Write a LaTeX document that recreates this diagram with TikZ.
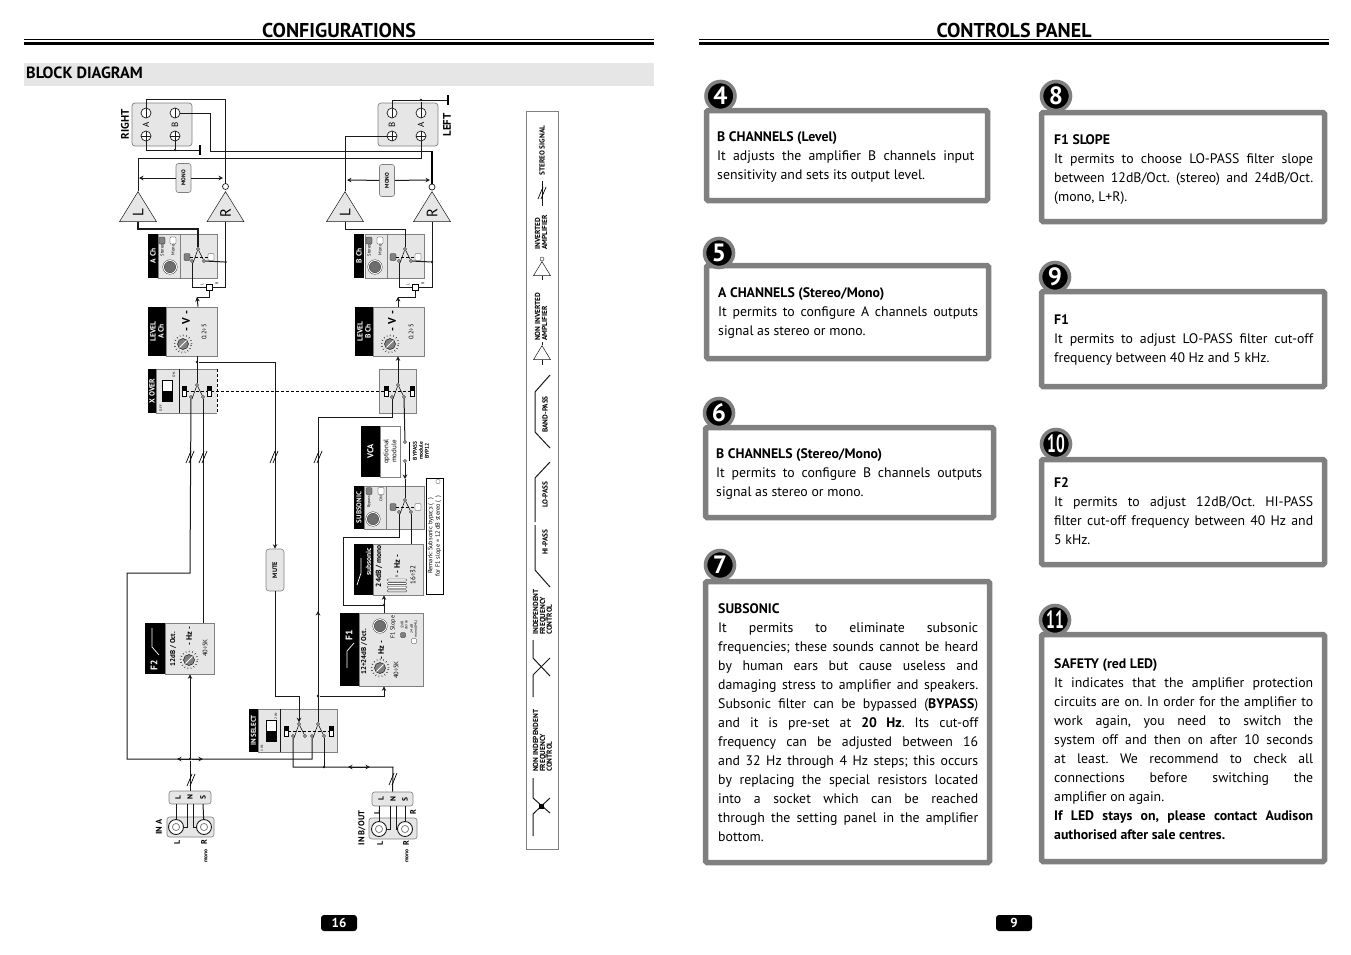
\documentclass[tikz,border=0pt]{standalone}
\usepackage{fontspec}
\setmainfont{PT Sans}
\usetikzlibrary{arrows.meta,shapes.geometric,calc}
\definecolor{edge}{HTML}{808080}
\definecolor{panel}{HTML}{E6E6E6}
\definecolor{pad}{HTML}{6E6E6E}
\definecolor{wire}{HTML}{1A1A1A}
\newcommand{\fsz}[2]{\fontsize{#1}{#2}\selectfont}
\frenchspacing

\begin{document}
\begin{tikzpicture}[
   x=1pt,y=-1pt,
   mod/.style   ={draw=edge,fill=panel,line width=0.7pt,inner sep=0pt},
   tag/.style   ={fill=black,text=white,rotate=90,inner sep=0pt,align=center,font=\fsz{7.5}{8}\bfseries},
   rt/.style    ={rotate=90,inner sep=0pt,align=center,font=\fsz{6}{6.5}},
   rb/.style    ={rotate=90,inner sep=0pt,align=center,font=\fsz{6}{6.5}\bfseries},
   lgt/.style   ={rotate=90,inner sep=0pt,align=left,anchor=west,font=\fsz{7.3}{6.9}\bfseries},
   wr/.style    ={draw=wire,line width=1pt},
   fl/.style    ={-{Stealth[length=4.5pt,width=4.5pt]},draw=wire,line width=1pt},
   pin/.style   ={circle,draw=wire,fill=white,line width=0.5pt,minimum size=3pt,inner sep=0pt},
   dot/.style   ={circle,fill=wire,minimum size=2.6pt,inner sep=0pt},
   opto/.style  ={circle,draw=wire,fill=white,line width=0.7pt,minimum size=6pt,inner sep=0pt},
   tminus/.style={circle,draw=wire,fill=white,line width=0.7pt,minimum size=10pt,inner sep=0pt,
                  path picture={\draw (path picture bounding box.north) -- (path picture bounding box.south);}},
   tplus/.style ={tminus,path picture={\draw (path picture bounding box.north) -- (path picture bounding box.south);
                  \draw (path picture bounding box.west) -- (path picture bounding box.east);}},
   amp/.style   ={isosceles triangle,isosceles triangle stretches,rotate=90,draw=wire,fill=panel,line width=0.5pt,
                  minimum width=37pt,minimum height=30pt,inner sep=0pt,anchor=apex,font=\fsz{15}{15}},
   amps/.style  ={isosceles triangle,isosceles triangle stretches,rotate=90,draw=wire,fill=white,line width=0.5pt,
                  minimum width=17pt,minimum height=14pt,inner sep=0pt,anchor=apex},
   pill/.style  ={draw=edge,fill=panel,rounded corners=2.5pt,line width=0.6pt,inner sep=0pt},
   ledg/.style  ={draw=wire,fill=edge,rounded corners=1pt,line width=0.3pt,minimum width=6pt,minimum height=7pt,inner sep=0pt},
   ledw/.style  ={draw=wire,fill=white,rounded corners=1pt,line width=0.3pt,minimum width=6pt,minimum height=7pt,inner sep=0pt},
   ledb/.style  ={draw=black,fill=white,line width=0.4pt,minimum width=4.5pt,minimum height=10pt,inner sep=0pt,
                  path picture={\fill[black] (path picture bounding box.north west) rectangle (path picture bounding box.east);}},
   slider/.style={draw=black,fill=white,line width=0.5pt,minimum width=10pt,minimum height=21pt,inner sep=0pt,
                  path picture={\fill[black] (path picture bounding box.west) rectangle (path picture bounding box.south east);}},
   knob/.style  ={circle,draw=wire,fill=edge,line width=0.5pt,minimum size=11pt,inner sep=0pt,
                  path picture={\draw[white,line width=0.8pt] (path picture bounding box.south west) -- (path picture bounding box.north east);}},
   ticks/.style ={circle,draw=wire,line width=1.6pt,dash pattern=on 0.5pt off 2.7pt,minimum size=17pt,inner sep=0pt},
   disc/.style  ={circle,draw=wire,fill=pad,line width=0.4pt,double=white,double distance=1pt,minimum size=13pt,inner sep=0pt},
   jack/.style  ={circle,draw=wire,fill=white,line width=0.9pt,minimum size=15pt,inner sep=0pt,
                  path picture={\draw[edge,line width=0.8pt] (path picture bounding box.center) circle (3.6pt);}},
   res/.style   ={draw=wire,fill=white,rounded corners=0.7pt,line width=0.4pt,minimum width=19pt,minimum height=2pt,inner sep=0pt},
   frame/.style ={draw=edge,fill=white,line width=5.5pt,rounded corners=1.5pt,inner sep=0pt},
   badge/.style ={circle,fill=black,draw=edge,line width=3.6pt,minimum size=29pt,inner sep=0pt,text=white,font=\fsz{25}{25}\bfseries},
   para/.style  ={anchor=north west,inner sep=0pt,align=justify,font=\fsz{13.8}{19}},
   swpic/.pic={
     \node[pin] (-p) at (0,0) {};
     \node[pin] (-a) at (-6,12) {};
     \node[pin] (-b) at (6,12) {};
     \draw[line width=0.5pt] (-p) -- (-5,14);
     \draw[line width=0.5pt] (-p) -- (-b);
   },
   slashes/.pic={
     \draw[line width=0.7pt] (-4,6) -- (1,-6);
     \draw[line width=0.7pt] (-1,6) -- (4,-6);
   }
  ]
  \useasboundingbox (0,0) rectangle (1351,954);

  % page heads
  \node[font=\fsz{20}{20}\bfseries] (headL) at (339,30) {CONFIGURATIONS};
  \node[font=\fsz{20}{20}\bfseries] (headR) at (1014,30) {CONTROLS PANEL};
  \fill (24,39.2) rectangle (654,40);
  \fill (24,41.5) rectangle (654,44.5);
  \fill (699,39.2) rectangle (1329,40);
  \fill (699,41.5) rectangle (1329,44.5);
  \node[fill=panel,minimum width=630pt,minimum height=23pt,inner sep=0pt] (band) at (339,74.5) {};
  \node[anchor=west,inner sep=0pt,font=\fsz{16.2}{16}\bfseries] (bandtxt) at (26,73) {BLOCK DIAGRAM};
  \node[fill=black,text=white,rounded corners=3pt,minimum width=36pt,minimum height=16pt,inner sep=0pt,font=\fsz{13}{13}\bfseries] (pageL) at (339,923) {16};
  \node[fill=black,text=white,rounded corners=3pt,minimum width=36pt,minimum height=16pt,inner sep=0pt,font=\fsz{13}{13}\bfseries] (pageR) at (1014,923) {9};

  % speakers
  \node[mod,rounded corners=3pt,minimum width=60pt,minimum height=43pt] (spkR) at (162,124.5) {};
  \node[mod,rounded corners=3pt,minimum width=60pt,minimum height=43pt] (spkL) at (408,124.5) {};
  \node[tminus] (rAm) at (146,113) {};
  \node[tminus] (rBm) at (175,113) {};
  \node[tplus]  (rAp) at (146,136) {};
  \node[tplus]  (rBp) at (175,136) {};
  \node[tminus] (lBm) at (392,113) {};
  \node[tminus] (lAm) at (421,113) {};
  \node[tplus]  (lBp) at (392,136) {};
  \node[tplus]  (lAp) at (421,136) {};
  \node[rt,font=\fsz{9}{9}] (rAt) at (146,124.5) {A};
  \node[rt,font=\fsz{9}{9}] (rBt) at (175,124.5) {B};
  \node[rt,font=\fsz{9}{9}] (lBt) at (392,124.5) {B};
  \node[rt,font=\fsz{9}{9}] (lAt) at (421,124.5) {A};
  \node[rb,font=\fsz{11}{11}\bfseries] (rightt) at (125,124.5) {RIGHT};
  \node[rb,font=\fsz{11}{11}\bfseries] (leftt) at (447,125) {LEFT};
  \node[dot] (rGnd) at (175,150) {};
  \node[dot] (lGnd) at (421,100) {};
  \coordinate (rEnd) at (200,150);
  \coordinate (lEnd) at (448,100);

  % amplifiers
  \node[amp] (ampAL) at (138,191) {L};
  \node[amp] (ampAR) at (225.5,191) {R};
  \node[amp] (ampBL) at (345,191) {L};
  \node[amp] (ampBR) at (432,191) {R};
  \node[opto] (optAR) at (225.5,186.5) {};
  \node[opto] (optBR) at (432,187) {};
  \node[pill,minimum width=15pt,minimum height=29pt] (monoA) at (183.5,178) {};
  \node[rb,font=\fsz{5.5}{6}\bfseries] (monoAt) at (183.5,178) {MONO};
  \node[pill,minimum width=15pt,minimum height=32pt] (monoB) at (387,180.5) {};
  \node[rb,font=\fsz{5.5}{6}\bfseries] (monoBt) at (387,180.5) {MONO};

  % stereo/mono switches
  \node[mod,minimum width=59pt,minimum height=44pt] (chA) at (187.5,256) {};
  \node[tag,minimum width=44pt,minimum height=10pt] (chAt) at (153,256) {A Ch};
  \draw[edge,line width=0.5pt] (180,234) -- (180,278);
  \node[disc] (chAd) at (170,267) {};
  \node[ledg] (chAl) at (162,240.5) {};
  \node[ledw] (chAm) at (173,240.5) {};
  \node[rt,font=\fsz{4.5}{5}] (chAst) at (162,250) {Stereo};
  \node[rt,font=\fsz{4.5}{5}] (chAmt) at (173,250) {Mono};
  \node[ledg] (chAa) at (187,257) {};
  \node[ledw] (chAb) at (211,257) {};
  \pic (swA) at (198,249) {swpic};
  \draw[densely dashed,line width=0.4pt] (chAa) -- (chAb);
  \node[mod,minimum width=59pt,minimum height=44pt] (chB) at (394.5,256) {};
  \node[tag,minimum width=44pt,minimum height=10pt] (chBt) at (359,256) {B Ch};
  \draw[edge,line width=0.5pt] (387,234) -- (387,278);
  \node[disc] (chBd) at (375,267) {};
  \node[ledg] (chBl) at (369,240.5) {};
  \node[ledw] (chBm) at (380,240.5) {};
  \node[rt,font=\fsz{4.5}{5}] (chBst) at (369,250) {Stereo};
  \node[rt,font=\fsz{4.5}{5}] (chBmt) at (380,250) {Mono};
  \node[ledg] (chBa) at (393,257) {};
  \node[ledw] (chBb) at (418,257) {};
  \pic (swB) at (405,249) {swpic};
  \draw[densely dashed,line width=0.4pt] (chBa) -- (chBb);
  \node[dot] (chAj) at (225.5,262) {};
  \node[dot] (chBj) at (432,262) {};
  \node[draw=black,fill=white,line width=0.7pt,minimum size=6pt,inner sep=0pt] (mixA) at (209,287) {};
  \node[draw=black,fill=white,line width=0.7pt,minimum size=6pt,inner sep=0pt] (mixB) at (415,287) {};
  \node[rt,font=\fsz{4}{4}] (mixAl) at (202,284) {L};
  \node[rt,font=\fsz{4}{4}] (mixAr) at (217,283) {R};
  \node[rt,font=\fsz{4}{4}] (mixBl) at (408,284) {L};
  \node[rt,font=\fsz{4}{4}] (mixBr) at (423,283) {R};

  % level
  \node[mod,minimum width=51pt,minimum height=49pt] (lvlA) at (191.5,331.5) {};
  \node[tag,minimum width=49pt,minimum height=18pt] (lvlAt) at (157,331.5) {LEVEL\\A Ch};
  \node[rb,font=\fsz{11}{11}\bfseries] (lvlAv) at (186,321) {- V -};
  \node[ticks] (lvlAr) at (183,344) {};
  \node[knob] (lvlAk) at (183,344) {};
  \node[rt,font=\fsz{6.5}{7}] (lvlAz) at (204,332) {0.2÷5};
  \node[mod,minimum width=51pt,minimum height=49pt] (lvlB) at (398.5,331.5) {};
  \node[tag,minimum width=49pt,minimum height=18pt] (lvlBt) at (364,331.5) {LEVEL\\B Ch};
  \node[rb,font=\fsz{11}{11}\bfseries] (lvlBv) at (392,321) {- V -};
  \node[ticks] (lvlBr) at (390,344) {};
  \node[knob] (lvlBk) at (390,344) {};
  \node[rt,font=\fsz{6.5}{7}] (lvlBz) at (411,332) {0.2÷5};

  % x over
  \node[draw=none,fill=panel,minimum width=61pt,minimum height=44pt,inner sep=0pt] (xoA) at (186.5,391) {};
  \draw[edge,line width=0.6pt] (217,369) -- (156,369) -- (156,413) -- (217,413);
  \draw[densely dashed,line width=0.5pt] (217,369) -- (217,413);
  \node[tag,minimum width=44pt,minimum height=8pt] (xoAt) at (152,391) {X OVER};
  \draw[wire,line width=0.6pt] (179,369) -- (179,413);
  \node[slider] (xoAs) at (167,391) {};
  \node[rt,font=\fsz{3.5}{4}] (xoAon) at (174,375) {ON};
  \node[rt,font=\fsz{3.5}{4}] (xoAof) at (161,408) {OFF};
  \node[ledb] (xoAa) at (184,391) {};
  \node[ledb] (xoAb) at (209,391) {};
  \pic (swX) at (197,385) {swpic};
  \node[mod,minimum width=37pt,minimum height=44pt] (xoB) at (397.5,391) {};
  \node[ledb] (xoBa) at (386,391) {};
  \node[ledb] (xoBb) at (412,391) {};
  \pic (swY) at (398,385) {swpic};
  \draw[densely dashed,line width=0.5pt] (xoAb) -- (xoBa);
  \draw[densely dashed,line width=0.4pt] (xoAa) -- (xoAb);
  \draw[densely dashed,line width=0.4pt] (xoBa) -- (xoBb);
  \node[dot] (lvlAj) at (197,362) {};

  % vca and subsonic
  \node[draw=edge,fill=white,line width=0.5pt,minimum width=20pt,minimum height=51pt,inner sep=0pt] (vca) at (390,451.5) {};
  \node[tag,minimum width=51pt,minimum height=19pt,font=\fsz{8.5}{9}\bfseries] (vcat) at (370.5,451.5) {VCA};
  \node[rt,font=\fsz{7}{8}] (vcao) at (390,451.5) {optional\\module};
  \node[pin] (bypA) at (405,442) {};
  \node[pin] (bypB) at (405,461) {};
  \draw[line width=1pt] (409.5,442) -- (409.5,461);
  \node[rb,font=\fsz{5.5}{6}\bfseries] (bypt) at (421,451) {BYPASS\\module\\BYP12};
  \node[mod,minimum width=60pt,minimum height=43pt] (sub) at (394,507.5) {};
  \node[tag,minimum width=43pt,minimum height=10pt,font=\fsz{7}{8}\bfseries] (subt) at (359,507.5) {SUBSONIC};
  \draw[edge,line width=0.5pt] (386,486) -- (386,529);
  \node[disc] (subd) at (373,519) {};
  \node[ledg] (subl) at (369,491) {};
  \node[ledw] (subm) at (381,491) {};
  \node[rt,font=\fsz{4}{4}] (subby) at (369,502) {Bypass};
  \node[rt,font=\fsz{4}{4}] (subon) at (381,499) {ON};
  \node[ledg] (suba) at (393,507) {};
  \node[ledw] (subb) at (418,507) {};
  \pic (swS) at (405,500) {swpic};
  \draw[densely dashed,line width=0.4pt] (suba) -- (subb);
  \node[draw=black,fill=white,line width=0.7pt,minimum width=17pt,minimum height=116pt,inner sep=0pt] (note) at (434.5,536) {};
  \node[rt,font=\fsz{6.3}{7.6}] (notet) at (434.5,536) {Remark: Subsonic bypass (\phantom{0})\\for F1 slope = 12 dB stereo (\phantom{0})};
  \node[ledw,minimum width=4pt,minimum height=4pt] (noteA) at (431,510) {};
  \node[ledw,minimum width=4pt,minimum height=4pt] (noteB) at (438,481.5) {};

  % subsonic filter
  \node[mod,minimum width=50pt,minimum height=51pt] (sf) at (398,569.5) {};
  \node[tag,minimum width=51pt,minimum height=19pt,font=\fsz{7.5}{8}\bfseries] (sft) at (363.5,569.5) {};
  \node[rb,text=white,font=\fsz{7.5}{8}\bfseries] (sft2) at (368.5,562) {subsonic};
  \draw[white,line width=0.7pt] (357,585) -- (361,573) -- (361,558);
  \node[rb,font=\fsz{7.5}{8}\bfseries] (sfd) at (379,566) {24dB / mono};
  \node[rb,font=\fsz{8}{8}\bfseries] (sfh) at (397,564) {- Hz -};
  \node[rt,font=\fsz{7}{8}] (sfz) at (413,575) {16÷32};
  \node[rt,font=\fsz{3.5}{4}] (sfr) at (397,576) {R};
  \node[res] (sf1) at (397,580) {};
  \node[res] (sf2) at (397,583.6) {};
  \node[res] (sf3) at (397,587.2) {};
  \node[res] (sf4) at (397,590.8) {};

  % F1
  \node[mod,minimum width=64pt,minimum height=73pt] (fa) at (391,649.5) {};
  \node[tag,minimum width=73pt,minimum height=19pt] (fat) at (349.5,649.5) {};
  \node[rb,text=white,font=\fsz{9.5}{9}\bfseries] (fat2) at (349,635) {F1};
  \draw[white,line width=0.7pt] (347,668) -- (347,651) -- (354,643);
  \node[rb,font=\fsz{7}{7}\bfseries] (fad) at (364,652) {12÷24dB / Oct.};
  \node[rb,font=\fsz{8}{8}\bfseries] (fah) at (381,650) {- Hz -};
  \node[ticks] (far) at (380,668) {};
  \node[knob] (fak) at (380,668) {};
  \node[disc] (fad2) at (380,626) {};
  \node[rt,font=\fsz{6.5}{7}] (faz) at (396,670) {40÷5K};
  \node[rt,font=\fsz{6}{7}] (fas) at (393,627) {F1 Slope};
  \node[ledg,minimum width=5pt,minimum height=5pt] (fal) at (403,635) {};
  \node[ledw,minimum width=5pt,minimum height=5pt] (fam) at (414,641) {};
  \node[rt,font=\fsz{3.6}{4}] (falt) at (404,625) {12dB\\stereo};
  \node[rt,font=\fsz{3.6}{4}] (famt) at (414,629) {24 dB\\mono (84L)};

  % F2
  \node[mod,minimum width=49pt,minimum height=51pt] (fb) at (189.5,648.5) {};
  \node[tag,minimum width=51pt,minimum height=20pt] (fbt) at (155,648.5) {};
  \node[rb,text=white,font=\fsz{9.5}{9}\bfseries] (fbt2) at (154,665) {F2};
  \draw[white,line width=0.7pt] (152,628) -- (152,647) -- (159,655);
  \node[rb,font=\fsz{7}{7}\bfseries] (fbd) at (173,649) {12dB / Oct.};
  \node[rb,font=\fsz{8}{8}\bfseries] (fbh) at (189,636) {- Hz -};
  \node[ticks] (fbr) at (189,660) {};
  \node[knob] (fbk) at (189,660) {};
  \node[rt,font=\fsz{6.5}{7}] (fbz) at (205,648) {40÷5K};

  % mute and in select
  \node[pill,rounded corners=3pt,minimum width=18pt,minimum height=42pt] (mute) at (275,570) {};
  \node[rb,font=\fsz{6.5}{7}\bfseries] (mutet) at (275,570) {MUTE};
  \node[draw=edge,fill=panel,line width=0.5pt,minimum width=79pt,minimum height=43pt,inner sep=0pt] (ins) at (297.5,730.5) {};
  \node[tag,minimum width=43pt,minimum height=9pt,font=\fsz{7}{8}\bfseries] (inst) at (253.5,730.5) {IN SELECT};
  \draw[wire,line width=0.6pt] (280,709) -- (280,752);
  \node[slider] (inss) at (271,731) {};
  \node[rt,font=\fsz{3.5}{4}] (insa) at (276,716) {2 IN};
  \node[rt,font=\fsz{3.5}{4}] (insb) at (262,748) {1 IN};
  \node[ledb] (insc) at (286,731) {};
  \node[ledb] (insd) at (331,731) {};
  \pic (swI) at (299,724) {swpic};
  \pic (swJ) at (318,724) {swpic};
  \draw[densely dashed,line width=0.4pt] (insc) -- (insd);

  % inputs
  \node[pill,minimum width=42pt,minimum height=13pt] (barA) at (190,797.5) {};
  \node[pill,minimum width=47pt,minimum height=20pt] (jackA) at (190.5,827) {};
  \node[rb,font=\fsz{7.5}{8}\bfseries] (barAl) at (178,797.5) {L};
  \node[rb,font=\fsz{7.5}{8}\bfseries] (barAn) at (190,797.5) {N};
  \node[rb,font=\fsz{7.5}{8}\bfseries] (barAs) at (203,797.5) {S};
  \coordinate (barAla) at (176,804);
  \coordinate (barAsa) at (203,804);
  \coordinate (barAna) at (187,804);
  \coordinate (barAnb) at (193,804);
  \node[jack] (jkAl) at (176,827) {};
  \node[jack] (jkAr) at (204,827) {};
  \node[rb,font=\fsz{8.5}{9}\bfseries] (inAt) at (159,827) {IN A};
  \node[rb,font=\fsz{8}{9}\bfseries] (jkAlt) at (177,842) {L};
  \node[rb,font=\fsz{8}{9}\bfseries] (jkArt) at (204,842) {R};
  \node[rb,font=\fsz{5.5}{6}\bfseries] (jkAm) at (206,856) {mono};
  \node[pill,minimum width=41pt,minimum height=14pt] (barB) at (392.5,799) {};
  \node[pill,minimum width=48pt,minimum height=21pt] (jackB) at (393,828.5) {};
  \node[rb,font=\fsz{7.5}{8}\bfseries] (barBl) at (381,799) {L};
  \node[rb,font=\fsz{7.5}{8}\bfseries] (barBn) at (393,799) {N};
  \node[rb,font=\fsz{7.5}{8}\bfseries] (barBs) at (405,799) {S};
  \coordinate (barBla) at (379,806);
  \coordinate (barBsa) at (405,806);
  \coordinate (barBna) at (390,806);
  \coordinate (barBnb) at (396,806);
  \node[jack] (jkBl) at (379,829) {};
  \node[jack] (jkBr) at (405,829) {};
  \node[rb,font=\fsz{8.5}{9}\bfseries] (inBt) at (362,828) {IN B/OUT};
  \node[rb,font=\fsz{8}{9}\bfseries] (jkBlt) at (380,843) {L};
  \node[rb,font=\fsz{8}{9}\bfseries] (jkBrt) at (406,843) {R};
  \node[rb,font=\fsz{8}{9}\bfseries] (jkBlu) at (377,812) {L};
  \node[rb,font=\fsz{8}{9}\bfseries] (jkBru) at (413,812) {R};
  \node[rb,font=\fsz{5.5}{6}\bfseries] (jkBm) at (407,856) {mono};

  % junctions
  \node[dot] (jnA) at (190,759) {};
  \node[dot] (jnB) at (324,767) {};
  \node[dot] (jnF) at (318,696) {};
  \node[dot] (jnS) at (384,605) {};

  % wiring
  \draw[wr] (rAm) -- (146,99) -- (225.5,99) -- (optAR);
  \draw[wr] (rBm) -- (210,113) -- (210,151) -- (432,151) -- (optBR);
  \draw[line width=1.5pt] (432,151) -- (optBR);
  \draw[wr] (rAp) |- (rEnd);
  \draw[wr] (rBp) -- (rGnd);
  \draw[line width=1.2pt] (200,145) -- (200,155);
  \draw[wr] (ampAL.apex) |- (421,158) -- (lAp);
  \draw[wr] (lBp) -| (ampBL.apex);
  \draw[wr] (lBm) |- (lEnd);
  \draw[wr] (lAm) -- (lGnd);
  \draw[line width=1.2pt] (448,95) -- (448,105);
  \draw[fl] (monoA) -- (139,178);
  \draw[fl] (monoA) -- (223,178);
  \draw[fl] (monoB) -- (347,180);
  \draw[fl] (monoB) -- (430,180);
  \draw[wr,line width=1.4pt] (ampAL.lower side) |- (198,229) -- (swA-p);
  \draw[wr] (ampBL.lower side) |- (405,229) -- (swB-p);
  \draw[wr] (ampAR.lower side) |- (mixA);
  \draw[wr] (ampBR.lower side) |- (mixB);
  \draw[wr] (swA-b) -- (chAj);
  \draw[wr] (swB-b) -- (chBj);
  \draw[wr] (swA-a) |- (mixA);
  \draw[wr] (swB-a) |- (mixB);
  \draw[fl] (lvlA.north -| swA-p) -- (197,297);
  \draw[wr] (197,297) -- (209,297) -- (mixA);
  \draw[fl] (lvlB.north -| swY-p) -- (398,297);
  \draw[wr] (398,297) -- (415,297) -- (mixB);
  \draw[wr] (lvlA.south -| lvlAj) -- (swX-p);
  \draw[fl] (swY-p) -- (lvlB.south -| swY-p);
  \draw[fl] (lvlAj) -| (mute);
  \draw[wr] (swX-a) -- (190,573) -- (127,573) -- (127,759) -- (312,759) -- (swJ-a);
  \draw[wr] (swX-b) -- (fb.north -| swX-b);
  \draw[wr] (swY-a) -- (392,417) -- (318,417) -- (swJ-p);
  \draw[wr] (swY-b) -- (bypA);
  \draw[fl] (bypB) -- (405,479);
  \draw[wr] (405,479) -- (swS-p);
  \draw[wr] (swS-a) -- (399,537) -- (343,537) -- (343,605) -- (jnS);
  \draw[wr] (swS-b) -- (sf.north -| swS-b);
  \draw[fl] (fa.north -| jnS) -- (sf.south -| jnS);
  \draw[wr] (mute) |- (299,696);
  \draw[fl] (299,696) -- (swI-p);
  \draw[fl] (jnF) -- (318,611);
  \draw[fl] (jnF) -| (fa.south -| jnS);
  \draw[wr] (swI-a) |- (393,767) -- (barB);
  \draw[wr] (swJ-b) -- (jnB);
  \draw[fl] (jnA) -- (fb.south -| jnA);
  \draw[wr] (jnA) -- (barA);
  \draw[fl] (jnA) -- ++(-13,0);
  \draw[fl] (jnA) -- ++(13,0);
  \draw[fl] (359,767) -- ++(-11,0);
  \draw[fl] (359,767) -- ++(11,0);
  \draw[wr] (barAla) -- (jkAl);
  \draw[wr] (barAsa) -- (jkAr);
  \draw[wr] (barAna) |- (jkAl);
  \draw[wr] (barAnb) |- (jkAr);
  \draw[wr] (barBla) -- (jkBl);
  \draw[wr] (barBsa) -- (jkBr);
  \draw[wr] (barBna) |- (jkBl);
  \draw[wr] (barBnb) |- (jkBr);
  \pic at (190,457) {slashes};
  \pic at (203,457) {slashes};
  \pic at (274,457) {slashes};
  \pic at (318,457) {slashes};
  \pic at (191,780) {slashes};
  \pic at (393,779) {slashes};

  % legend
  \node[draw=edge,fill=white,line width=0.6pt,minimum width=32pt,minimum height=738pt,inner sep=0pt] (leg) at (542,480) {};
  \node[lgt] (lg1) at (542,176) {STEREO SIGNAL};
  \draw[wr] (542,181) -- (542,206);
  \pic at (542,193) {slashes};
  \node[lgt] (lg2) at (541,250) {INVERTED\\AMPLIFIER};
  \node[amps] (lgi) at (542,261) {};
  \node[opto,minimum size=4pt,line width=0.4pt] (lgo) at (542,259) {};
  \draw[wr,line width=0.5pt] (lgi.lower side) -- ++(0,4);
  \node[lgt] (lg3) at (541,341) {NON INVERTED\\AMPLIFIER};
  \node[amps] (lgn) at (542,345) {};
  \draw[wr,line width=0.5pt] (lgn.apex) -- ++(0,-3);
  \draw[wr,line width=0.5pt] (lgn.lower side) -- ++(0,5);
  \node[lgt] (lg4) at (545,433) {BAND-PASS};
  \draw[wr] (550,375) -- (535,392) -- (535,432) -- (550,448);
  \node[lgt] (lg5) at (545,508) {LO-PASS};
  \draw[wr] (550,462) -- (535,478) -- (535,522);
  \node[lgt] (lg6) at (545,555) {HI-PASS};
  \draw[wr] (535,525) -- (535,570) -- (550,587);
  \node[lgt] (lg7) at (542.5,635) {INDEPENDENT\\FREQUENCY\\CONTROL};
  \draw[wr] (533,640) -- (533,658) -- (550,676);
  \draw[wr] (550,658) -- (533,675) -- (533,697);
  \node[lgt] (lg8) at (542.5,772) {NON INDEPENDENT\\FREQUENCY\\CONTROL};
  \draw[wr] (533,778) -- (533,798) -- (550,813);
  \draw[wr] (550,798) -- (533,814) -- (533,836);
  \node[fill=black,minimum size=5pt,inner sep=0pt] (lgx) at (541.5,806) {};

  % controls panel
  \node[frame,minimum width=281pt,minimum height=90pt] (b4) at (847,155.5) {};
  \node[badge] (n4) at (720.5,96) {4};
  \node[para,text width=257pt] (t4) at (717,131) {\textbf{B CHANNELS (Level)}\\It adjusts the amplifier B channels input\linebreak
    sensitivity and sets its output level.};
  \node[frame,minimum width=283pt,minimum height=109pt] (b8) at (1183,167) {};
  \node[badge] (n8) at (1056,96) {8};
  \node[para,text width=259pt] (t8) at (1054,134) {\textbf{F1 SLOPE}\\It permits to choose LO-PASS filter slope\linebreak
    between 12dB/Oct. (stereo) and 24dB/Oct.\linebreak (mono, L+R).};
  \node[frame,minimum width=282pt,minimum height=93pt] (b5) at (847.5,312) {};
  \node[badge] (n5) at (719,253) {5};
  \node[para,text width=260pt] (t5) at (718,287) {\textbf{A CHANNELS (Stereo/Mono)}\\It permits to configure A channels outputs\linebreak
    signal as stereo or mono.};
  \node[frame,minimum width=283pt,minimum height=95pt] (b9) at (1183,339) {};
  \node[badge] (n9) at (1055,277) {9};
  \node[para,text width=259pt] (t9) at (1054,314) {\textbf{F1}\\It permits to adjust LO-PASS filter cut-off\linebreak
    frequency between 40 Hz and 5 kHz.};
  \node[frame,minimum width=288pt,minimum height=90pt] (b6) at (849.5,472.5) {};
  \node[badge] (n6) at (719,413) {6};
  \node[para,text width=266pt] (t6) at (716,448) {\textbf{B CHANNELS (Stereo/Mono)}\\It permits to configure B channels outputs\linebreak
    signal as stereo or mono.};
  \node[frame,minimum width=283pt,minimum height=105pt] (b10) at (1183,512) {};
  \node[badge] (n10) at (1056,444) {\scalebox{0.62}[1]{10}};
  \node[para,text width=259pt] (t10) at (1054,477) {\textbf{F2}\\It permits to adjust 12dB/Oct. HI-PASS\linebreak
    filter cut-off frequency between 40 Hz and\linebreak 5 kHz.};
  \node[frame,minimum width=284pt,minimum height=281pt] (b7) at (847.5,722) {};
  \node[badge] (n7) at (720,565) {7};
  \node[para,text width=260pt] (t7) at (718,603) {\textbf{SUBSONIC}\\It permits to eliminate subsonic\linebreak
    frequencies; these sounds cannot be heard\linebreak
    by human ears but cause useless and\linebreak
    damaging stress to amplifier and speakers.\linebreak
    Subsonic filter can be bypassed (\textbf{BYPASS})\linebreak
    and it is pre-set at \textbf{20 Hz}. Its cut-off\linebreak
    frequency can be adjusted between 16\linebreak
    and 32 Hz through 4 Hz steps; this occurs\linebreak
    by replacing the special resistors located\linebreak
    into a socket which can be reached\linebreak
    through the setting panel in the amplifier\linebreak
    bottom.};
  \node[frame,minimum width=283pt,minimum height=227pt] (b11) at (1183,748) {};
  \node[badge] (n11) at (1055,620) {\scalebox{0.62}[1]{11}};
  \node[para,text width=259pt] (t11) at (1054,658) {\textbf{SAFETY (red LED)}\\It indicates that the amplifier protection\linebreak
    circuits are on. In order for the amplifier to\linebreak
    work again, you need to switch the\linebreak
    system off and then on after 10 seconds\linebreak
    at least. We recommend to check all\linebreak
    connections before switching the\linebreak
    amplifier on again.\\
    \textbf{If LED stays on, please contact Audison\linebreak
    authorised after sale centres.}};
\end{tikzpicture}
\end{document}
